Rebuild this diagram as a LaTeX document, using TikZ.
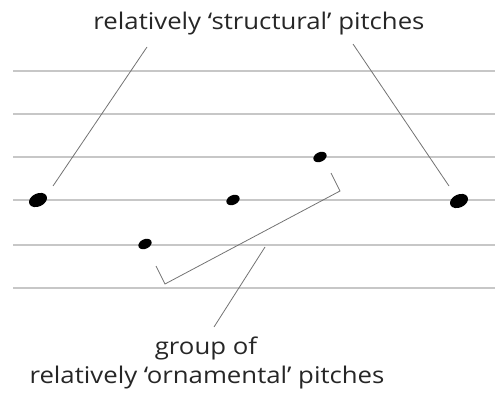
\documentclass[tikz,border=0pt]{standalone}
\usepackage{fontspec}
\setmainfont[FakeStretch=1.12]{Open Sans}
\usetikzlibrary{shapes.geometric}
\definecolor{staffgray}{gray}{0.78}
\definecolor{leadgray}{gray}{0.45}
\tikzset{
  staffline/.style={draw=staffgray, line width=1.1pt},
  leader/.style={draw=leadgray, line width=0.8pt},
  bignote/.style={ellipse, fill=black, inner sep=0pt, minimum width=19pt, minimum height=13pt, rotate=25},
  smallnote/.style={ellipse, fill=black, inner sep=0pt, minimum width=14pt, minimum height=9.5pt, rotate=25},
  label/.style={font=\fontsize{23}{29}\selectfont, text=black!85, inner sep=0pt}
}
\begin{document}
\begin{tikzpicture}[x=1pt,y=-1pt]
\useasboundingbox (0,0) rectangle (495,398);
\foreach \y in {71,114,157,200,245,288}{
  \draw[staffline] (13,\y) -- (495,\y);
}
\node[bignote] (n1) at (38,200) {};
\node[smallnote] (n2) at (145,244) {};
\node[smallnote] (n3) at (233,200) {};
\node[smallnote] (n4) at (320,157) {};
\node[bignote] (n5) at (459,201) {};
\node[label, anchor=base] (top) at (259,30) {relatively ‘structural’ pitches};
\node[label, anchor=base] (bot1) at (206,354) {group of};
\node[label, anchor=base] (bot2) at (207,383) {relatively ‘ornamental’ pitches};
\coordinate (l1a) at (147,47);
\coordinate (l1b) at (53,186);
\coordinate (l2a) at (353,44);
\coordinate (l2b) at (449,186);
\coordinate (b1) at (331,173);
\coordinate (b2) at (340,191);
\coordinate (b3) at (165,284);
\coordinate (b4) at (156,266);
\coordinate (l3a) at (265,247);
\coordinate (l3b) at (214,327);
\draw[leader] (l1a) -- (l1b);
\draw[leader] (l2a) -- (l2b);
\draw[leader] (b1) -- (b2) -- (b3) -- (b4);
\draw[leader] (l3a) -- (l3b);
\end{tikzpicture}
\end{document}
